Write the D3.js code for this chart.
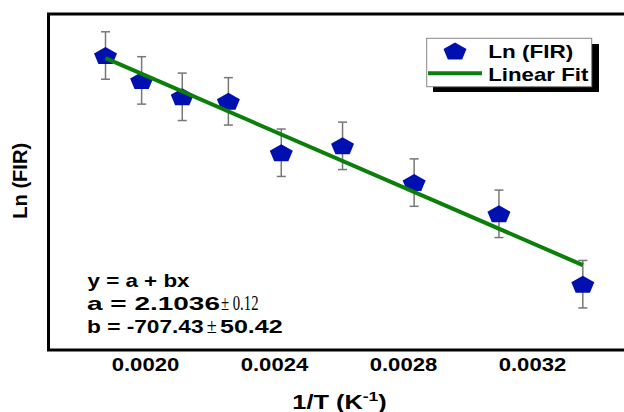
<!DOCTYPE html>
<html>
<head>
<meta charset="utf-8">
<script src="https://cdn.jsdelivr.net/npm/d3@7"></script>
<style>
  body { margin: 0; background: #fff; }
  svg { display: block; }
  text { font-family: Arial, "Liberation Sans", sans-serif; font-weight: bold; fill: #000; }
</style>
</head>
<body>
<script>
// data
const invT = [0.001876, 0.001988, 0.002114, 0.002257, 0.002421, 0.002611, 0.002833, 0.003096, 0.003356];
const lnFIR = [0.790, 0.664, 0.581, 0.558, 0.298, 0.333, 0.147, -0.011, -0.367];
const errFIR = [0.12, 0.12, 0.12, 0.12, 0.12, 0.12, 0.12, 0.12, 0.12];
const xTicks = [0.0020, 0.0024, 0.0028, 0.0032];
const fitA = 2.1036, fitB = -707.43;

const W = 624, H = 412;
const svg = d3.select("body").append("svg").attr("width", W).attr("height", H);

const x = d3.scaleLinear().domain([0.0017, 0.0038]).range([48.75, 726]);
const y = d3.scaleLinear().domain([-0.7, 1.0]).range([350, 14]);

// pentagon, w x h box centred on the point
function pentagon(w, h) {
  const sx = w / 1.902, sy = h / 1.809, dy = 0.0955 * sy;
  const pts = d3.range(5).map(i => {
    const a = (-90 + 72 * i) * Math.PI / 180;
    return [Math.cos(a) * sx, Math.sin(a) * sy + dy];
  });
  return "M" + pts.map(p => p.join(",")).join("L") + "Z";
}

// frame
svg.append("rect")
  .attr("x", 48.5).attr("y", 14).attr("width", 700).attr("height", 336)
  .attr("fill", "none").attr("stroke", "#000").attr("stroke-width", 3);

const pts = invT.map((v, i) => ({ x: v, y: lnFIR[i], e: errFIR[i] }));

// error bars
const eb = svg.append("g").attr("stroke", "#777").attr("stroke-width", 1.5);
pts.forEach(d => {
  const cx = x(d.x);
  eb.append("line").attr("x1", cx).attr("x2", cx).attr("y1", y(d.y + d.e)).attr("y2", y(d.y - d.e));
  [d.y + d.e, d.y - d.e].forEach(v => {
    eb.append("line").attr("x1", cx - 4.5).attr("x2", cx + 4.5).attr("y1", y(v)).attr("y2", y(v));
  });
});

// points
svg.append("g").selectAll("path")
  .data(pts).enter().append("path")
  .attr("d", pentagon(23, 17))
  .attr("transform", d => `translate(${x(d.x)},${y(d.y)})`)
  .attr("fill", "#0010b0");

// linear fit
const x0 = d3.min(invT), x1 = d3.max(invT);
svg.append("line")
  .attr("x1", x(x0)).attr("y1", y(fitA + fitB * x0))
  .attr("x2", x(x1)).attr("y2", y(fitA + fitB * x1))
  .attr("stroke", "#0a7f0a").attr("stroke-width", 4);

// x tick labels (no tick marks)
svg.append("g").selectAll("text")
  .data(xTicks).enter().append("text")
  .attr("x", d => x(d)).attr("y", 371)
  .attr("text-anchor", "middle")
  .attr("font-size", 17.5)
  .attr("textLength", 67.6).attr("lengthAdjust", "spacingAndGlyphs")
  .text(d => d3.format(".4f")(d));

// axis titles
const xt = svg.append("text")
  .attr("transform", "translate(339.5,409) scale(1.3,1)")
  .attr("text-anchor", "middle").attr("font-size", 19.5);
xt.append("tspan").text("1/T (K");
xt.append("tspan").attr("font-size", 13.5).attr("dy", -8).text("-1");
xt.append("tspan").attr("dy", 8).text(")");

svg.append("text")
  .attr("transform", "translate(27,180.8) rotate(-90)")
  .attr("text-anchor", "middle").attr("font-size", 20)
  .attr("textLength", 76).attr("lengthAdjust", "spacingAndGlyphs")
  .text("Ln (FIR)");

// legend
const lg = svg.append("g");
lg.append("rect").attr("x", 433).attr("y", 44).attr("width", 166).attr("height", 48).attr("fill", "#000");
lg.append("rect").attr("x", 426.7).attr("y", 38.3).attr("width", 165).attr("height", 48.4)
  .attr("fill", "#fff").attr("stroke", "#888").attr("stroke-width", 1);
lg.append("path").attr("d", pentagon(23, 17)).attr("transform", "translate(455,51)").attr("fill", "#0010b0");
lg.append("line").attr("x1", 428).attr("x2", 482).attr("y1", 73.3).attr("y2", 73.3)
  .attr("stroke", "#0a7f0a").attr("stroke-width", 4);
lg.append("text").attr("x", 488.3).attr("y", 57.8).attr("font-size", 19)
  .attr("textLength", 85).attr("lengthAdjust", "spacingAndGlyphs").text("Ln (FIR)");
lg.append("text").attr("x", 488.3).attr("y", 80.5).attr("font-size", 19)
  .attr("textLength", 100).attr("lengthAdjust", "spacingAndGlyphs").text("Linear Fit");

// fit parameters
function put(txt, x0, base, len, serif) {
  const t = svg.append("text").attr("x", x0).attr("y", base)
    .attr("font-size", serif ? 21 : 19)
    .attr("textLength", len).attr("lengthAdjust", "spacingAndGlyphs")
    .text(txt);
  if (serif) t.style("font-family", "'Liberation Serif', 'Times New Roman', serif").style("font-weight", "normal");
  return t;
}
put("y = a + bx", 87.5, 287, 102);
put("a = " + fitA.toFixed(4), 87, 310, 133);
put("\u00b1 0.12", 221, 310, 37.5, true);
put("b = " + fitB.toFixed(2), 87, 332.5, 116.6);
put("\u00b1", 206.7, 332.5, 10, true);
put("50.42", 220, 332.5, 62.7);
</script>
</body>
</html>
